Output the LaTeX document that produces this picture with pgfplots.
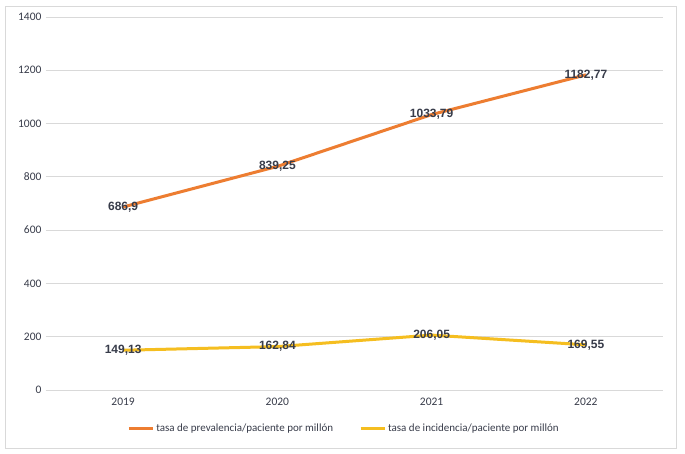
\documentclass[border=0pt]{standalone}
\usepackage{pgfplots}
\pgfplotsset{compat=1.18}
\usepackage{fontspec}
\setmainfont{Carlito}
\newfontfamily\lblfont{Liberation Sans}
\definecolor{orangeS}{HTML}{ED7D31}
\definecolor{goldS}{HTML}{F5BE20}
\definecolor{gridC}{HTML}{D9D9D9}
\definecolor{txtC}{HTML}{383C4A}

\pgfplotstableread{
x y lab
0 686.9 686,9
1 839.25 839,25
2 1033.79 1033,79
3 1182.77 1182,77
}\prevalencia
\pgfplotstableread{
x y lab
0 149.13 149,13
1 162.84 162,84
2 206.05 206,05
3 169.55 169,55
}\incidencia

\begin{document}
\begin{tikzpicture}[x=1pt,y=1pt]
\fill[white] (0,0) rectangle (685,454);
\draw[gridC, line width=0.8pt] (5,6) rectangle (676,448);
\begin{axis}[
    at={(46pt,64pt)}, anchor=south west,
    scale only axis, width=617pt, height=373pt,
    xmin=-0.5, xmax=3.5, ymin=0, ymax=1400,
    xtick={0,1,2,3}, xticklabels={2019,2020,2021,2022},
    ytick={0,200,...,1400},
    major x tick style={draw=none},
    extra x ticks={-0.5,0.5,1.5,2.5,3.5}, extra x tick labels={},
    extra x tick style={major tick length=5pt, tick style={draw=gridC, line width=0.8pt}, tick align=outside, grid=none},
    axis x line*=bottom, axis y line*=left,
    x axis line style={draw=gridC, line width=0.8pt, -},
    y axis line style={draw=none},
    ymajorgrids, grid style={gridC, line width=0.8pt},
    y tick label style={font=\fontsize{11.5}{13}\selectfont, text=txtC},
    x tick label style={font=\fontsize{11.5}{13}\selectfont, text=txtC, yshift=-5pt},
    yticklabel style={xshift=-1pt},
    major y tick style={draw=none},
    /pgf/number format/assume math mode=true,
    /pgf/number format/1000 sep={},
    nodes near coords, point meta=explicit symbolic,
    every node near coord/.append style={anchor=center, text=txtC, font=\lblfont\bfseries\fontsize{12}{14}\selectfont},
    legend columns=2,
    legend style={at={(0.483,-0.102)}, anchor=center, draw=none, fill=none,
        font=\fontsize{11}{13}\selectfont, text=txtC,
        /tikz/every even column/.append style={column sep=24pt}},
    legend image code/.code={\draw[#1, line width=3pt] (0pt,0pt) -- (24pt,0pt);},
    clip=false,
]
\addplot[orangeS, line width=3pt, mark=none] table[x=x, y=y, meta=lab] {\prevalencia};
\addlegendentry{tasa de prevalencia/paciente por millón}
\addplot[goldS, line width=3pt, mark=none] table[x=x, y=y, meta=lab] {\incidencia};
\addlegendentry{tasa de incidencia/paciente por millón}
\end{axis}
\end{tikzpicture}
\end{document}
